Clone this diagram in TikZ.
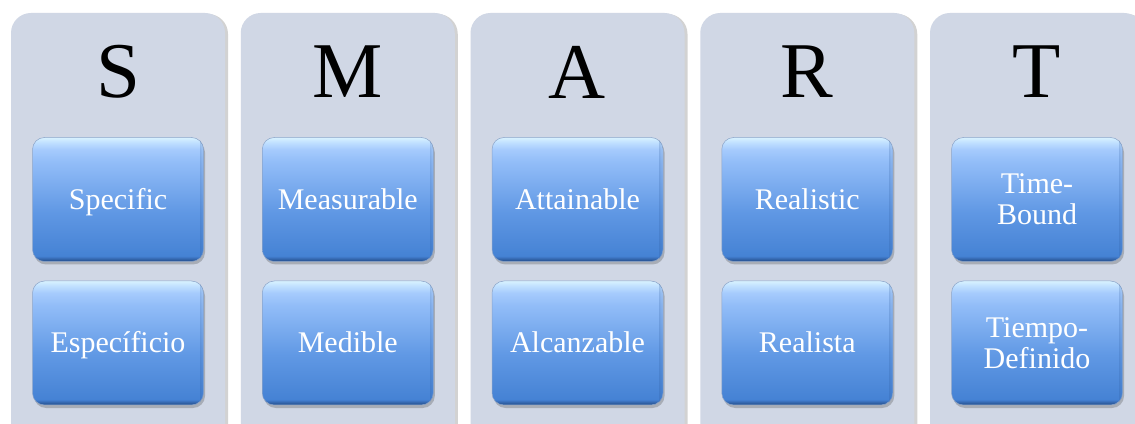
\documentclass[tikz,border=0pt]{standalone}
\usepackage{fontspec}
\setmainfont{Liberation Serif}
\usetikzlibrary{shadows,fadings}
\definecolor{panelbg}{HTML}{D0D7E5}
\definecolor{boxedge}{HTML}{2C5A9C}
\pgfdeclareverticalshading{smartshade}{100bp}{%
  color(0bp)=(boxedge);
  color(25bp)=(boxedge);
  color(25.6bp)=(boxedge);
  color(27.2bp)=(rgb,255:red,69;green,130;blue,212);
  color(45bp)=(rgb,255:red,96;green,152;blue,228);
  color(65.3bp)=(rgb,255:red,146;green,189;blue,248);
  color(70.2bp)=(rgb,255:red,166;green,203;blue,253);
  color(73bp)=(rgb,255:red,192;green,224;blue,255);
  color(75bp)=(rgb,255:red,216;green,242;blue,255);
  color(100bp)=(rgb,255:red,216;green,242;blue,255)}
\pgfdeclarehorizontalshading{edgefade}{100bp}{%
  color(0bp)=(transparent!100); color(25bp)=(transparent!100);
  color(75bp)=(transparent!0); color(100bp)=(transparent!0)}
\tikzset{
  panel/.style={fill=panelbg, rounded corners=20pt, draw=none,
    general shadow={shadow xshift=3pt, shadow yshift=-1pt, fill=black!35, opacity=0.5}},
  letter/.style={font=\fontsize{79}{80}\selectfont, text=black, inner sep=0pt},
  smartbox/.style={rectangle, rounded corners=12pt, minimum width=171pt, minimum height=124pt,
    shading=smartshade, draw=boxedge!55, line width=0.5pt,
    text=white, align=center, font=\fontsize{30}{31}\selectfont, inner sep=0pt,
    drop shadow={shadow xshift=1.5pt, shadow yshift=-3pt, opacity=0.3, fill=black!70}},
  oneline/.style={text height=20pt, text depth=0pt},
}
\newcommand{\mybevel}[1]{%
  \begin{scope}
    \clip[rounded corners=12pt] (#1.south west) rectangle (#1.north east);
    \fill[boxedge, path fading=east, opacity=0.22] ([xshift=-4pt]#1.south east) rectangle (#1.north east);
  \end{scope}
}
\begin{document}
\begin{tikzpicture}[x=1pt,y=1pt]
\useasboundingbox (0,0) rectangle (1135,423);
\fill[white] (0,0) rectangle (1135,423);
\begin{scope}
\clip (0,0) rectangle (1135,423);
\foreach \i/\L/\A/\B/\st [count=\n] in {0/S/Specific/Específicio/oneline, 1/M/Measurable/Medible/oneline, 2/A/Attainable/Alcanzable/oneline, 3/R/Realistic/Realista/oneline, 4/T/{Time-\\Bound}/{Tiempo-\\Definido}/{}}{
  \pgfmathsetmacro{\xl}{11+229.75*\i}
  \pgfmathsetmacro{\xc}{\xl+107}
  \path[panel] (\xl,-30) rectangle ++(214,440);
  \node[letter] (letter\n) at (\xc,351) {\L};
  \node[smartbox, \st] (top\n) at (\xc,223.5) {\A};
  \mybevel{top\n}
  \node[smartbox, \st] (bot\n) at (\xc,80) {\B};
  \mybevel{bot\n}
}
\end{scope}
\end{tikzpicture}
\end{document}
